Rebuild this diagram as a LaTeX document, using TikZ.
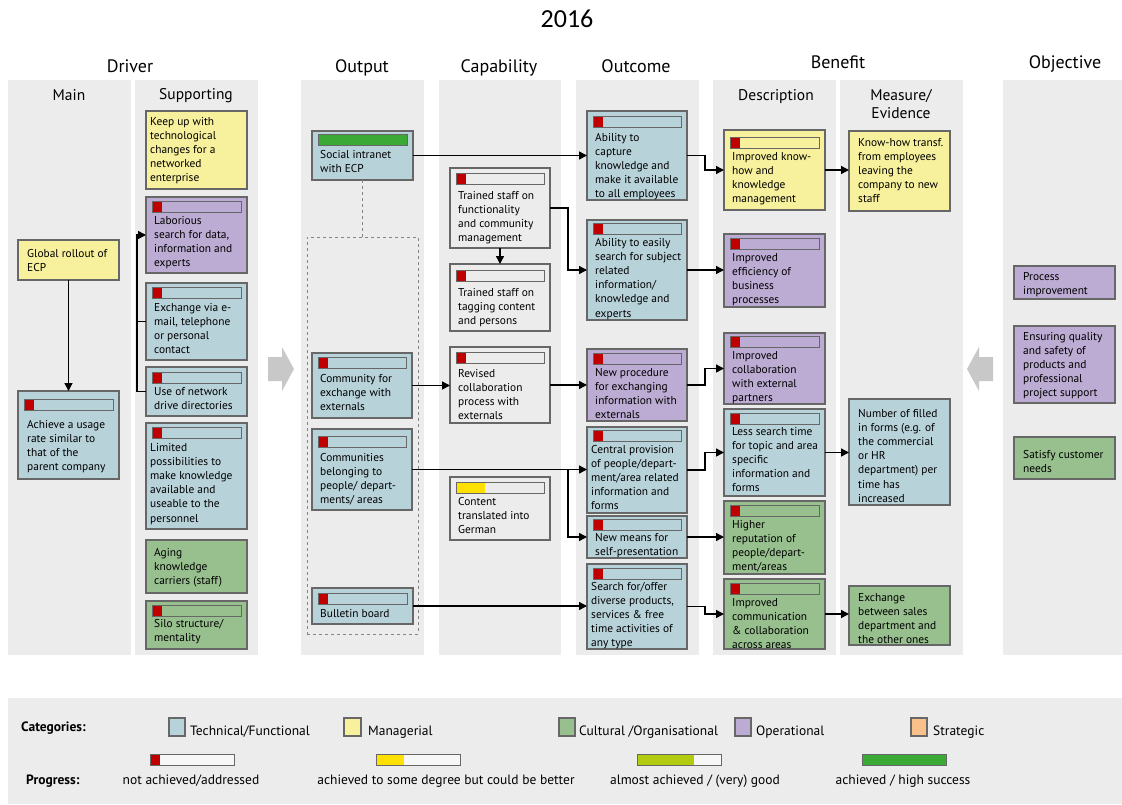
\documentclass[tikz,border=0pt]{standalone}
\usepackage{fontspec}
\setmainfont{PT Sans}
\newfontfamily\yearfont{Carlito}
\usetikzlibrary{fit,calc,arrows.meta}

\definecolor{cblue}{HTML}{B8D2DA}
\definecolor{cyel}{HTML}{F7F09C}
\definecolor{cpur}{HTML}{BCABD3}
\definecolor{cgrn}{HTML}{97C08E}
\definecolor{corg}{HTML}{F9C08B}
\definecolor{cgray}{HTML}{ECECEC}
\definecolor{panel}{HTML}{ECECEC}
\definecolor{bordergray}{HTML}{676767}
\definecolor{pred}{HTML}{C00000}
\definecolor{pyel}{HTML}{FFE100}
\definecolor{plime}{HTML}{B2CB0E}
\definecolor{pgreen}{HTML}{3AA936}
\definecolor{bigarrow}{HTML}{C8C8C8}

\tikzset{
  box/.style={draw=bordergray, line width=1.2pt, inner sep=0pt, outer sep=0pt},
  txt/.style={anchor=north west, inner sep=0pt, align=left, font=\fontsize{11.4}{14.2}\selectfont},
  conn/.style={draw=black, line width=1.4pt, -{Triangle[length=8pt,width=8pt]}},
  plainline/.style={draw=black, line width=1.4pt},
  colhead/.style={font=\fontsize{18}{20}\selectfont, anchor=base, inner sep=0pt},
  subhead/.style={font=\fontsize{15.5}{18}\selectfont, anchor=base, inner sep=0pt, align=center},
  barline/.style={draw=bordergray, line width=0.9pt},
  legtxt/.style={font=\fontsize{13.5}{16}\selectfont, anchor=base west, inner sep=0pt},
  legctr/.style={font=\fontsize{13.5}{16}\selectfont, anchor=base, inner sep=0pt},
  legbold/.style={font=\bfseries\fontsize{13.5}{16}\selectfont, anchor=base west, inner sep=0pt},
}

% #1 name, #2-#5 corners, #6 fill, #7-#8 text top left, #9 text
\newcommand\cbox[9]{%
  \node[box, fill=#6, fit={(#2,#3) (#4,#5)}] (#1) {};
  \node[txt] (#1-t) at (#7,#8) {\strut#9};
}
% progress bar: #1 box, #2 offset from top, #3 colour, #4 filled width
\newcommand\pbar[4]{%
  \fill[#3] ($(#1.north west)+(6,#2)$) rectangle ++(#4,11);
  \draw[barline] ($(#1.north west)+(6,#2)$) rectangle ($(#1.north east)+(-6,#2+11)$);
}
% legend bar: #1 x, #2 colour, #3 filled width
\newcommand\legbar[3]{%
  \fill[white!60!panel] (#1,754) rectangle ++(84,11);
  \fill[#2] (#1,754) rectangle ++(#3,11);
  \draw[barline] (#1,754) rectangle ++(84,11);
}

\begin{document}
\begin{tikzpicture}[x=1pt,y=-1pt]
\useasboundingbox (0,0) rectangle (1122,804);
\fill[white] (0,0) rectangle (1122,804);

% column panels
\fill[panel] (8,80) rectangle (131,655);
\fill[panel] (135,80) rectangle (258,655);
\fill[panel] (301,80) rectangle (424,655);
\fill[panel] (439,80) rectangle (561,655);
\fill[panel] (576,80) rectangle (699,655);
\fill[panel] (713,80) rectangle (836,655);
\fill[panel] (840,80) rectangle (963,655);
\fill[panel] (1003,80) rectangle (1122,655);

% headings
\node[font=\yearfont\fontsize{26}{28}\selectfont, anchor=base, inner sep=0pt] (year) at (567,27) {2016};
\node[colhead] (hdriver) at (130,72) {Driver};
\node[colhead] (houtput) at (362,72) {Output};
\node[colhead] (hcap) at (499,72) {Capability};
\node[colhead] (houtcome) at (636,72) {Outcome};
\node[colhead] (hbenefit) at (838,68) {Benefit};
\node[colhead] (hobj) at (1065,68) {Objective};
\node[subhead] (hmain) at (69,100) {Main};
\node[subhead] (hsupp) at (196,99) {Supporting};
\node[subhead] (hdesc) at (776,100) {Description};
\node[subhead] (hmeas) at (901,100) {Measure/};
\node[subhead] (hevid) at (901,118) {Evidence};

% flow arrows between the two halves
\fill[bigarrow] (268,357) -- (282,357) -- (282,347) -- (294,369) -- (282,391) -- (282,381) -- (268,381) -- cycle;
\fill[bigarrow] (993,357) -- (979,357) -- (979,347) -- (967,369) -- (979,391) -- (979,381) -- (993,381) -- cycle;

% Driver: main
\cbox{global}{18}{240}{119}{280}{cyel}{27}{247}{Global rollout of\\ECP}
\cbox{achieve}{18}{391}{119}{479}{cblue}{27}{418}{Achieve a usage\\rate similar to\\that of the\\parent company}
\pbar{achieve}{8}{pred}{10}

% Driver: supporting
\cbox{keep}{146}{111}{247}{189}{cyel}{150}{115}{Keep up with\\technological\\changes for a\\networked\\enterprise}
\cbox{labor}{146}{197}{247}{273}{cpur}{154}{214}{Laborious\\search for data,\\information and\\experts}
\pbar{labor}{4}{pred}{10}
\cbox{exch}{146}{283}{247}{360}{cblue}{154}{301}{Exchange via e-\\mail, telephone\\or personal\\contact}
\pbar{exch}{4}{pred}{10}
\cbox{usenet}{146}{367}{247}{416}{cblue}{154}{385}{Use of network\\drive directories}
\pbar{usenet}{5}{pred}{10}
\cbox{limited}{146}{423}{247}{529}{cblue}{150}{441}{Limited\\possibilities to\\make knowledge\\available and\\useable to the\\personnel}
\pbar{limited}{4}{pred}{10}
\cbox{aging}{146}{540}{247}{593}{cgrn}{154}{546}{Aging\\knowledge\\carriers (staff)}
\cbox{silo}{146}{601}{247}{649}{cgrn}{154}{617}{Silo structure/\\mentality}
\pbar{silo}{4}{pred}{10}

% Output
\cbox{social}{312}{131}{413}{180}{cblue}{320}{148}{Social intranet\\with ECP}
\pbar{social}{3}{pgreen}{89}
\node[draw=bordergray!80, dashed, line width=0.9pt, inner sep=0pt, outer sep=0pt, fit={(307,237) (418,634)}] (grp) {};
\cbox{commext}{312}{353}{412}{418}{cblue}{320}{372}{Community for\\exchange with\\externals}
\pbar{commext}{4}{pred}{10}
\cbox{commpeople}{312}{429}{412}{510}{cblue}{320}{451}{Communities\\belonging to\\people/ depart-\\ments/ areas}
\pbar{commpeople}{7}{pred}{10}
\cbox{bulletin}{312}{588}{413}{624}{cblue}{320}{607}{Bulletin board}
\pbar{bulletin}{5}{pred}{10}

% Capability
\cbox{tfunc}{450}{168}{550}{248}{cgray}{458}{189}{Trained staff on\\functionality\\and community\\management}
\pbar{tfunc}{5}{pred}{10}
\cbox{ttag}{450}{264}{550}{331}{cgray}{458}{286}{Trained staff on\\tagging content\\and persons}
\pbar{ttag}{6}{pred}{10}
\cbox{revised}{450}{347}{550}{423}{cgray}{458}{367}{Revised\\collaboration\\process with\\externals}
\pbar{revised}{5}{pred}{10}
\cbox{content}{450}{477}{550}{540}{cgray}{458}{495}{Content\\translated into\\German}
\pbar{content}{5}{pyel}{29}

% Outcome
\cbox{capture}{587}{111}{687}{200}{cblue}{595}{131}{Ability to\\capture\\knowledge and\\make it available\\to all employees}
\pbar{capture}{5}{pred}{10}
\cbox{easy}{587}{220}{687}{320}{cblue}{595}{236}{Ability to easily\\search for subject\\related\\information/\\knowledge and\\experts}
\pbar{easy}{3}{pred}{10}
\cbox{newproc}{587}{349}{687}{421}{cpur}{595}{366}{New procedure\\for exchanging\\information with\\externals}
\pbar{newproc}{4}{pred}{10}
\cbox{central}{587}{427}{687}{513}{cblue}{591}{443}{Central provision\\of people/depart-\\ment/area related\\information and\\forms}
\pbar{central}{3}{pred}{10}
\cbox{newmeans}{587}{516}{687}{558}{cblue}{595}{531}{New means for\\self-presentation}
\pbar{newmeans}{3}{pred}{10}
\cbox{offer}{587}{564}{687}{649}{cblue}{591}{580}{Search for/offer\\diverse products,\\services \& free\\time activities of\\any type}
\pbar{offer}{4}{pred}{10}

% Benefit: description
\cbox{knowhow}{724}{130}{825}{210}{cyel}{732}{150}{Improved know-\\how and\\knowledge\\management}
\pbar{knowhow}{7}{pred}{10}
\cbox{eff}{724}{234}{825}{307}{cpur}{732}{251}{Improved\\efficiency of\\business\\processes}
\pbar{eff}{4}{pred}{10}
\cbox{collab}{724}{333}{825}{404}{cpur}{732}{349}{Improved\\collaboration\\with external\\partners}
\pbar{collab}{3}{pred}{10}
\cbox{less}{724}{409}{825}{496}{cblue}{732}{425}{Less search time\\for topic and area\\specific\\information and\\forms}
\pbar{less}{4}{pred}{10}
\cbox{rep}{724}{501}{825}{574}{cgrn}{732}{518}{Higher\\reputation of\\people/depart-\\ment/areas}
\pbar{rep}{4}{pred}{10}
\cbox{impcomm}{724}{579}{825}{649}{cgrn}{732}{596}{Improved\\communication\\\& collaboration\\across areas}
\pbar{impcomm}{4}{pred}{10}

% Benefit: measure / evidence
\cbox{ktransf}{849}{131}{950}{211}{cyel}{858}{136}{Know-how transf.\\from employees\\leaving the\\company to new\\staff}
\cbox{forms}{849}{399}{950}{505}{cblue}{858}{407}{Number of filled\\in forms (e.g. of\\the commercial\\or HR\\department) per\\time has\\increased}
\cbox{sales}{849}{586}{950}{645}{cgrn}{858}{591}{Exchange\\between sales\\department and\\the other ones}

% Objective
\cbox{proc}{1014}{266}{1115}{299}{cpur}{1023}{270}{Process\\improvement}
\cbox{quality}{1014}{326}{1115}{403}{cpur}{1023}{330}{Ensuring quality\\and safety of\\products and\\professional\\project support}
\cbox{satisfy}{1014}{437}{1115}{479}{cgrn}{1023}{448}{Satisfy customer\\needs}

% routing columns for the elbow connectors
\coordinate (xs) at (137,0);
\coordinate (xa) at (568,0);
\coordinate (xb) at (705,0);

% connectors
\draw[conn] (global) -- (achieve);
\draw[conn] (usenet.west) -- (usenet.west -| xs) |- (labor.west);
\draw[plainline] (exch.west) -- (exch.west -| xs);
\draw[dashed, draw=bordergray!80, line width=0.9pt] (social.south) -- (grp.north);
\draw[conn] (social.east) -- (capture.west);
\draw[conn] (tfunc.east) -- (tfunc.east -| xa) |- (easy.west);
\draw[conn] (tfunc) -- (ttag);
\draw[conn] (commext.east) -- (revised.west |- commext.east);
\draw[conn] (revised.east) -- (newproc.west |- revised.east);
\draw[conn] (commpeople.east) -- (central.west |- commpeople.east);
\draw[conn] (commpeople.east -| xa) |- (newmeans.west);
\draw[conn] (bulletin.east) -- (offer.west |- bulletin.east);
\draw[conn] (capture.east) -- (capture.east -| xb) |- (knowhow.west);
\draw[conn] (easy.east) -- (eff.west |- easy.east);
\draw[conn] (newproc.east) -- (newproc.east -| xb) |- (collab.west);
\draw[conn] (central.east) -- (central.east -| xb) |- (less.west);
\draw[conn] (newmeans.east) -- (rep.west |- newmeans.east);
\draw[conn] (offer.east) -- (offer.east -| xb) |- (impcomm.west);
\draw[conn] (knowhow.east) -- (ktransf.west |- knowhow.east);
\draw[conn] (less.east) -- (forms.west |- less.east);
\draw[conn] (impcomm.east) -- (sales.west |- impcomm.east);

% legend
\fill[panel] (8,698) rectangle (1122,804);
\node[legbold] (lcat) at (21,731) {Categories:};
\node[legbold] (lprog) at (26,784) {Progress:};
\draw[box, fill=cblue] (169,718) rectangle (185,736);
\node[legtxt] (ltech) at (190,735) {Technical/Functional};
\draw[box, fill=cyel] (344,718) rectangle (361,736);
\node[legtxt] (lman) at (368,735) {Managerial};
\draw[box, fill=cgrn] (559,718) rectangle (575,736);
\node[legtxt] (lcult) at (579,735) {Cultural /Organisational};
\draw[box, fill=cpur] (735,718) rectangle (751,736);
\node[legtxt] (lop) at (756,735) {Operational};
\draw[box, fill=corg] (911,718) rectangle (927,736);
\node[legtxt] (lstr) at (933,735) {Strategic};

\legbar{150}{pred}{10}
\node[legctr] (lnot) at (191,784) {not achieved/addressed};
\legbar{376}{pyel}{28}
\node[legctr] (lsome) at (446,784) {achieved to some degree but could be better};
\legbar{637}{plime}{57}
\node[legctr] (lalm) at (695,784) {almost achieved / (very) good};
\legbar{862}{pgreen}{84}
\node[legctr] (lhigh) at (903,784) {achieved / high success};
\end{tikzpicture}
\end{document}
